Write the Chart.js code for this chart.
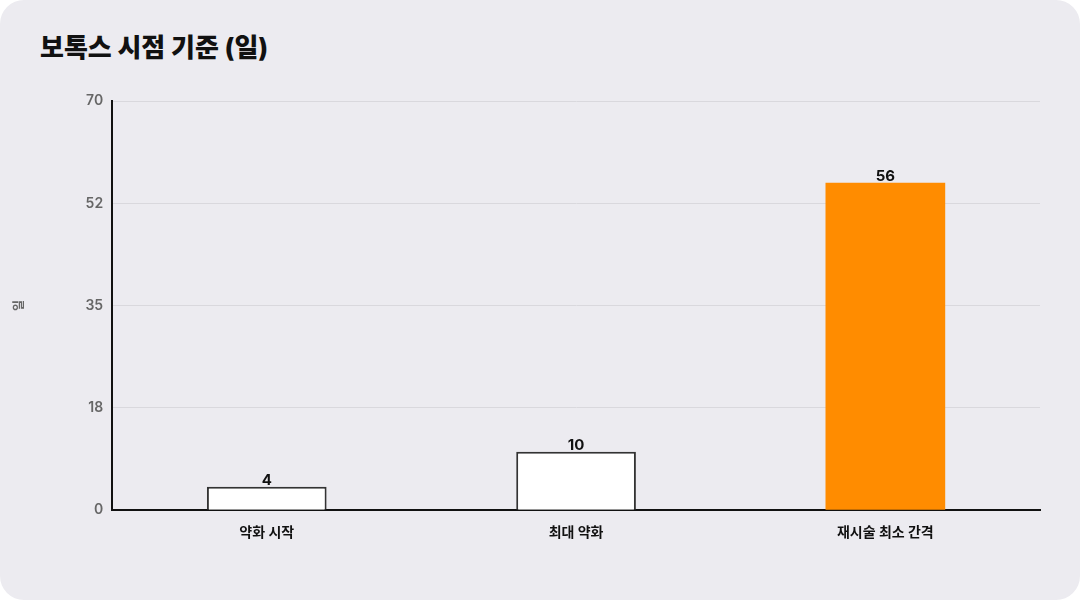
<!DOCTYPE html>
<html lang="ko">
<head>
<meta charset="utf-8">
<script src="https://cdn.jsdelivr.net/npm/chart.js@4"></script>
<style>
  html, body { margin: 0; padding: 0; background: #ffffff; }
  .card {
    position: relative;
    width: 1080px;
    height: 600px;
    background: #ecebf0;
    border-radius: 24px;
    overflow: hidden;
  }
  .card h1 {
    position: absolute;
    left: 40px;
    top: 30px;
    margin: 0;
    font-family: Inter, "Noto Sans CJK KR", sans-serif;
    font-size: 26px;
    font-weight: 800;
    color: #111111;
    line-height: 36px;
  }
  #botoxChart { position: absolute; left: 0; top: 0; }
</style>
</head>
<body>
<div class="card">
  <h1>보톡스 시점 기준 (일)</h1>
  <canvas id="botoxChart" width="1080" height="600"></canvas>
</div>
<script>
const categories = ['약화 시작', '최대 약화', '재시술 최소 간격'];
const days = [4, 10, 56];
const barColors = ['#ffffff', '#ffffff', '#ff8c00'];
const barBorders = ['#333333', '#333333', '#ff8c00'];
const tickValues = [0, 17.5, 35, 52.5, 70];
const tickLabels = ['0', '18', '35', '52', '70'];

const fontFamily = 'Inter, "Noto Sans CJK KR", sans-serif';

// value labels above each bar
const valueLabels = {
    id: 'valueLabels',
    afterDatasetsDraw(chart) {
        const ctx = chart.ctx;
        const meta = chart.getDatasetMeta(0);
        ctx.save();
        ctx.font = '700 15px ' + fontFamily;
        ctx.fillStyle = '#111111';
        ctx.textAlign = 'center';
        ctx.textBaseline = 'bottom';
        meta.data.forEach((bar, i) => {
            ctx.fillText(String(days[i]), bar.x, bar.y + 1);
        });
        ctx.restore();
    }
};

const ctx = document.getElementById('botoxChart').getContext('2d');
new Chart(ctx, {
    type: 'bar',
    data: {
        labels: categories,
        datasets: [{
            label: '일',
            data: days,
            backgroundColor: barColors,
            borderColor: barBorders,
            borderWidth: [2, 2, 0],
            categoryPercentage: 1,
            barPercentage: 0.387
        }]
    },
    options: {
        responsive: false,
        animation: false,
        layout: { padding: { top: 101, right: 40, bottom: 53, left: 12 } },
        plugins: {
            legend: { display: false },
            tooltip: { enabled: false }
        },
        scales: {
            x: {
                grid: { display: false },
                border: { color: '#111111', width: 2 },
                ticks: {
                    color: '#111111',
                    padding: 6,
                    font: { family: fontFamily, size: 14, weight: '700' }
                }
            },
            y: {
                min: 0,
                max: 70,
                afterBuildTicks(axis) {
                    axis.ticks = tickValues.map(v => ({ value: v }));
                },
                grid: { color: '#d9d8dd', drawTicks: false },
                border: { color: '#111111', width: 2 },
                ticks: {
                    color: '#666666',
                    padding: 9,
                    font: { family: fontFamily, size: 14, weight: '600' },
                    callback: (value) => tickLabels[tickValues.indexOf(value)]
                },
                title: {
                    display: true,
                    text: '일',
                    color: '#666666',
                    padding: { top: 0, bottom: 50 },
                    font: { family: fontFamily, size: 12, weight: '600' }
                }
            }
        }
    },
    plugins: [valueLabels]
});
</script>
</body>
</html>
